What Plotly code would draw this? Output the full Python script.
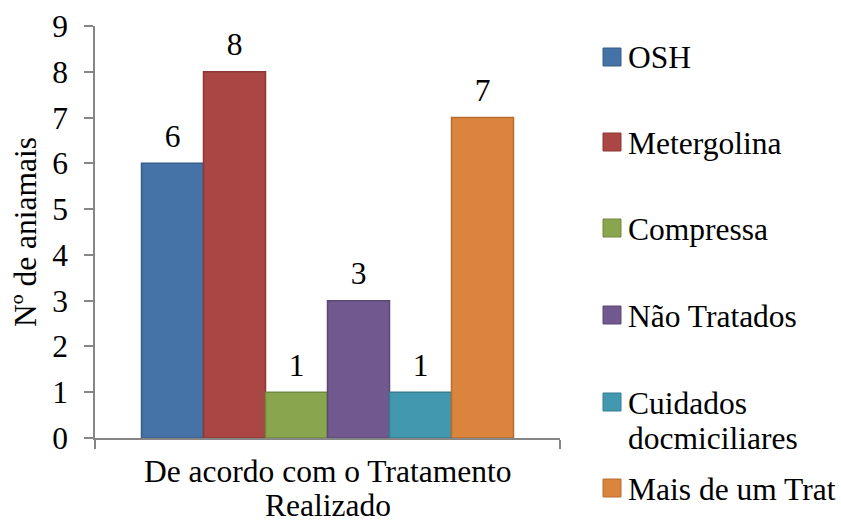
import plotly.graph_objects as go

category = ["De acordo com o Tratamento Realizado"]
category_lines = ["De acordo com o Tratamento", "Realizado"]
series_names = ["OSH", "Metergolina", "Compressa", "Não Tratados",
                "Cuidados<br>docmiciliares", "Mais de um Trat"]
series_values = [6, 8, 1, 3, 1, 7]
fill_colors = ["#4572A7", "#AA4643", "#89A54E", "#71588F", "#4198AF", "#DB843D"]
edge_colors = ["#385D8A", "#8C3836", "#71893F", "#5C4776", "#357D91", "#B66D31"]
y_ticks = list(range(0, 10))

FONT = "Liberation Serif"
FS = 31.5
W, H = 841, 524
L, R, T, B = 95, 281, 26, 86
pw, ph = W - L - R, H - T - B

fig = go.Figure()
for i, (name, val, fc, ec) in enumerate(zip(series_names, series_values, fill_colors, edge_colors)):
    fig.add_trace(go.Bar(
        x=category, y=[val], name=name, offsetgroup=str(i),
        marker=dict(color=fc, line=dict(color=ec, width=1.5)),
        showlegend=False,
    ))
    # data label, aligned with its bar via offsetgroup
    fig.add_trace(go.Scatter(
        x=category, y=[val], offsetgroup=str(i), mode="markers+text",
        text=[str(val)], textposition="top center",
        marker=dict(size=12, color="rgba(0,0,0,0)"),
        textfont=dict(family=FONT, size=FS, color="black"),
        cliponaxis=False, showlegend=False, hoverinfo="skip",
    ))

def px2x(px):
    return (px - L) / pw

def py2y(py):
    return (H - B - py) / ph

# manual legend (Excel style)
legend_centers = [57, 142, 228, 315, 402, 488]
shapes = []
annotations = []
for name, fc, ec, cy in zip(series_names, fill_colors, edge_colors, legend_centers):
    shapes.append(dict(type="rect", xref="paper", yref="paper",
                       x0=px2x(603), x1=px2x(621), y0=py2y(cy + 9), y1=py2y(cy - 9),
                       fillcolor=fc, line=dict(color=ec, width=1)))
    for i, line in enumerate(name.split("<br>")):
        annotations.append(dict(xref="paper", yref="paper", x=px2x(626), y=py2y(cy + 1 + 35 * i),
                                text=line, showarrow=False, xanchor="left", yanchor="middle",
                                font=dict(family=FONT, size=FS, color="black")))

# category label (two lines, Excel line spacing)
for i, line in enumerate(category_lines):
    annotations.append(dict(xref="x", yref="paper", x=category[0], y=py2y(471 + 35 * i),
                            text=line, showarrow=False, xanchor="center", yanchor="middle",
                            font=dict(family=FONT, size=FS, color="black")))

fig.update_layout(
    width=W, height=H,
    margin=dict(l=L, r=R, t=T, b=B, pad=0, autoexpand=False),
    paper_bgcolor="white", plot_bgcolor="white",
    barmode="group", bargap=0.2, bargroupgap=0,
    scattermode="group", scattergap=0.2,
    font=dict(family=FONT, size=FS, color="black"),
    shapes=shapes, annotations=annotations,
    showlegend=False,
    xaxis=dict(showline=True, linecolor="#868686", linewidth=1.5, automargin=False,
               ticks="outside", tickson="boundaries", ticklen=9, tickcolor="#868686",
               tickwidth=1.5, showgrid=False, zeroline=False, showticklabels=False),
    yaxis=dict(range=[0, 9], tickvals=y_ticks, showline=True, linecolor="#868686",
               linewidth=1.5, ticks="outside", ticklen=9, tickcolor="#868686", tickwidth=1.5,
               showgrid=False, zeroline=False, automargin=False, ticklabelstandoff=10,
               tickfont=dict(family=FONT, size=FS, color="black"),
               title=dict(text="Nº de aniamais", standoff=6,
                          font=dict(family=FONT, size=FS, color="black"))),
)

fig.write_html("out.html", config={"displayModeBar": False},
               post_script="document.body.style.margin='0';")
